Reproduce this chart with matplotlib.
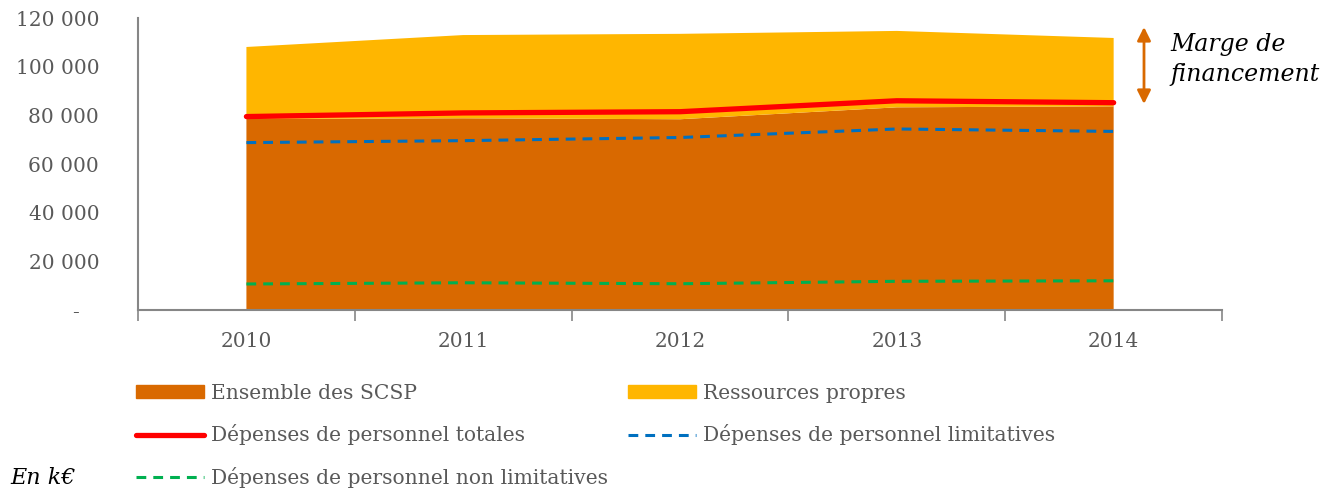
import matplotlib.pyplot as plt
import numpy as np
from matplotlib.lines import Line2D
from matplotlib.patches import Patch
from matplotlib.ticker import FuncFormatter

plt.rcParams['font.family'] = ['DejaVu Serif']

years = ['2010', '2011', '2012', '2013', '2014']
# en k€
scsp = [78500, 78800, 78400, 83300, 83700]
ressources_propres = [29600, 34200, 35100, 31400, 28100]
dep_totales = [79500, 81000, 81500, 86000, 85200]
dep_limitatives = [68800, 69600, 70900, 74400, 73400]
dep_non_limitatives = [10700, 11200, 10800, 11800, 12000]

c_scsp = '#D96900'
c_rp = '#FFB600'
c_tot = '#FF0000'
c_lim = '#0070C0'
c_nonlim = '#00B050'
c_txt = '#595959'
c_axis = '#868686'
dash = (3.2, 2.3)

fig = plt.figure(figsize=(13.22, 4.91), dpi=100)
ax = fig.add_axes([0.1044, 0.3686, 0.82, 0.5947])

x = np.arange(len(years))
ax.stackplot(x, scsp, ressources_propres, colors=[c_scsp, c_rp], linewidth=0)
ax.plot(x, dep_totales, color=c_tot, lw=3.8, solid_capstyle='round')
ax.plot(x, dep_limitatives, color=c_lim, lw=2.2, dashes=dash)
ax.plot(x, dep_non_limitatives, color=c_nonlim, lw=2.2, dashes=dash)

ax.set_xlim(-0.5, len(years) - 0.5)
ax.set_ylim(0, 120000)
ax.set_yticks(np.arange(0, 120001, 20000))
ax.yaxis.set_major_formatter(FuncFormatter(
    lambda v, p: '-   ' if v == 0 else '{:,.0f}'.format(v).replace(',', ' ')))
ax.tick_params(axis='y', length=0, pad=28, labelsize=14.5, labelcolor=c_txt)

# ticks between categories, labels centred on each year
ax.set_xticks(np.arange(-0.5, len(years), 1.0))
ax.set_xticklabels([])
ax.set_xticks(x, minor=True)
ax.set_xticklabels(years, minor=True)
ax.tick_params(axis='x', which='major', length=8, width=1.2, color=c_axis, direction='out')
ax.tick_params(axis='x', which='minor', length=0, pad=16, labelsize=14.5, labelcolor=c_txt)

for s in ['top', 'right']:
    ax.spines[s].set_visible(False)
for s in ['left', 'bottom']:
    ax.spines[s].set_color(c_axis)
    ax.spines[s].set_linewidth(1.5)

# marge de financement
ax.annotate('', xy=(1144, 491 - 104), xytext=(1144, 491 - 27), xycoords='figure pixels',
            textcoords='figure pixels',
            arrowprops=dict(arrowstyle='<|-|>', color=c_scsp, lw=2, mutation_scale=20,
                            shrinkA=0, shrinkB=0))
fig.text(1170 / 1322, 1 - 44 / 491, 'Marge de', style='italic', fontsize=17,
         va='center', ha='left')
fig.text(1170 / 1322, 1 - 75 / 491, 'financement', style='italic', fontsize=17,
         va='center', ha='left')

handles = [
    Patch(color=c_scsp, label='Ensemble des SCSP'),
    Line2D([], [], color=c_tot, lw=3.8, solid_capstyle='round', label='Dépenses de personnel totales'),
    Line2D([], [], color=c_nonlim, lw=2.2, dashes=dash, label='Dépenses de personnel non limitatives'),
    Patch(color=c_rp, label='Ressources propres'),
    Line2D([], [], color=c_lim, lw=2.2, dashes=dash, label='Dépenses de personnel limitatives'),
]
leg = fig.legend(handles=handles, ncol=2, loc='upper left',
                 bbox_to_anchor=(130 / 1322, 1 - 378 / 491), frameon=False,
                 fontsize=14.6, handlelength=3.35, handleheight=0.6, handletextpad=0.35,
                 columnspacing=1.0, labelspacing=1.05, borderaxespad=0, borderpad=0.3,
                 labelcolor=c_txt)

fig.text(10 / 1322, 1 - 478 / 491, 'En k€', style='italic', fontsize=16, va='center')

fig.savefig('out.png', dpi=100)
